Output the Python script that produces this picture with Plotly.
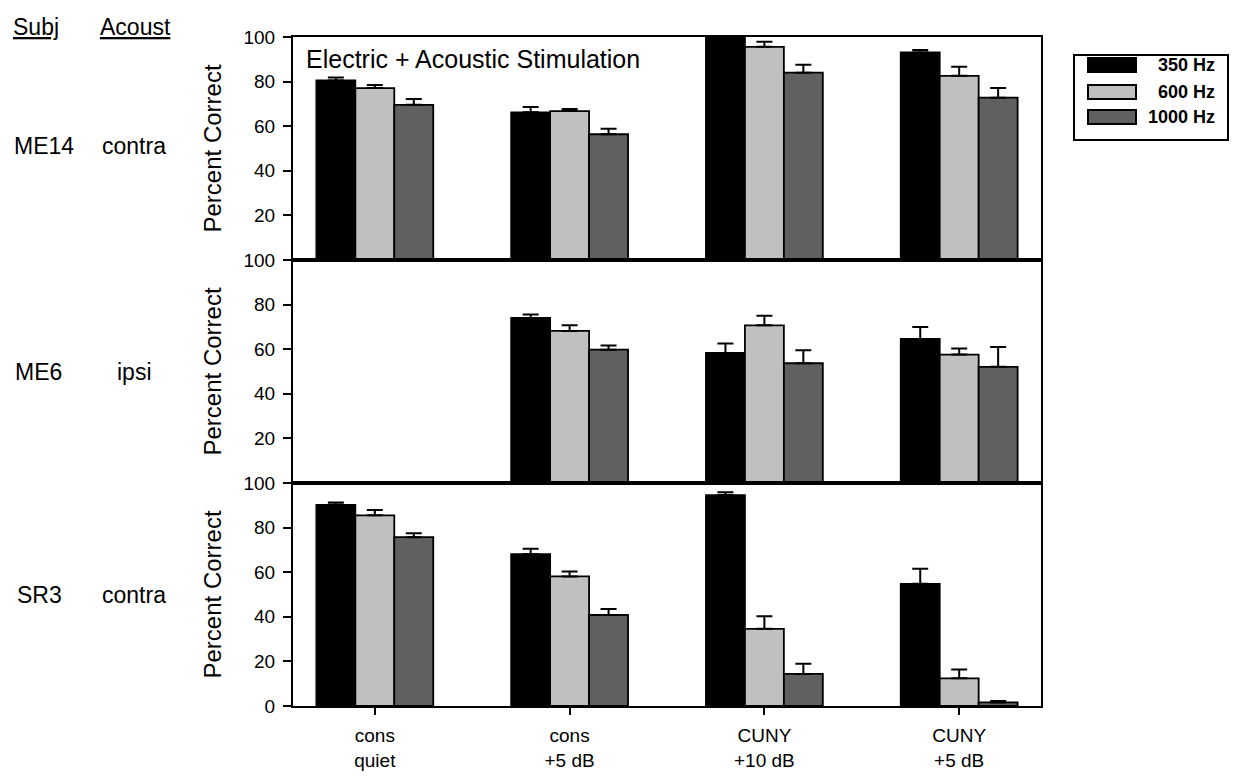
import plotly.graph_objects as go
from plotly.subplots import make_subplots

categories = ["cons<br>quiet", "cons<br>+5 dB", "CUNY<br>+10 dB", "CUNY<br>+5 dB"]
freqs = ["350 Hz", "600 Hz", "1000 Hz"]
colors = ["#000000", "#C0C0C0", "#606060"]

subjects = ["ME14", "ME6", "SR3"]
acoust = ["contra", "ipsi", "contra"]

me14_350 = [80.5, 66.2, 100.0, 93.1]
me14_350_err = [1.3, 2.4, 0.0, 1.1]
me14_600 = [77.1, 66.8, 95.6, 82.6]
me14_600_err = [1.4, 0.9, 2.3, 4.1]
me14_1000 = [69.6, 56.4, 84.0, 72.8]
me14_1000_err = [2.6, 2.5, 3.6, 4.3]

me6_350 = [None, 74.0, 58.3, 64.6]
me6_350_err = [0, 1.6, 4.3, 5.4]
me6_600 = [None, 68.2, 70.7, 57.6]
me6_600_err = [0, 2.5, 4.3, 2.7]
me6_1000 = [None, 59.8, 53.7, 52.1]
me6_1000_err = [0, 1.9, 5.8, 8.9]

sr3_350 = [90.2, 68.1, 94.6, 54.8]
sr3_350_err = [1.0, 2.4, 1.2, 6.8]
sr3_600 = [85.5, 58.1, 34.6, 12.4]
sr3_600_err = [2.4, 2.2, 5.6, 4.0]
sr3_1000 = [75.7, 40.8, 14.4, 1.6]
sr3_1000_err = [1.8, 2.7, 4.5, 0.6]

panels = [
    [(me14_350, me14_350_err), (me14_600, me14_600_err), (me14_1000, me14_1000_err)],
    [(me6_350, me6_350_err), (me6_600, me6_600_err), (me6_1000, me6_1000_err)],
    [(sr3_350, sr3_350_err), (sr3_600, sr3_600_err), (sr3_1000, sr3_1000_err)],
]

FONT = "Liberation Sans, Arial, sans-serif"

fig = make_subplots(rows=3, cols=1, shared_xaxes=True, vertical_spacing=0)

for r, series in enumerate(panels, start=1):
    for i, (vals, errs) in enumerate(series):
        fig.add_trace(
            go.Bar(
                x=categories, y=vals, name=freqs[i],
                marker=dict(color=colors[i], line=dict(color="black", width=1.8)),
                error_y=dict(type="data", array=errs, arrayminus=[0] * len(errs),
                             symmetric=False, color="black", thickness=2, width=8),
                showlegend=False,
            ),
            row=r, col=1,
        )

# the page has an 8px body margin on every side; size the figure to fit the window
OFF = 8
W, H = 1222, 768
L, R, T, B = 285, 189, 29, 70
PW, PH = W - L - R, H - T - B

def px(x):
    return (x - OFF - L) / PW

def py(y):
    return (H - B - (y - OFF)) / PH

fig.update_layout(
    width=W, height=H,
    margin=dict(l=L, r=R, t=T, b=B, autoexpand=False),
    paper_bgcolor="white", plot_bgcolor="white",
    barmode="group", bargap=0.4, bargroupgap=0,
    font=dict(family=FONT, size=16, color="black"),
)

for r in range(1, 4):
    fig.update_yaxes(
        range=[0, 100], automargin=False,
        tickvals=[0, 20, 40, 60, 80, 100] if r == 3 else [20, 40, 60, 80, 100],
        ticks="outside", ticklen=8, tickwidth=2, tickcolor="black",
        ticklabelstandoff=4,
        showline=True, linewidth=2, linecolor="black", mirror=True,
        showgrid=False, zeroline=False,
        tickfont=dict(family=FONT, size=19, color="black"),
        row=r, col=1,
    )
    fig.update_xaxes(
        range=[-0.42, 3.42], automargin=False,
        showline=True, linewidth=2, linecolor="black", mirror=True,
        showgrid=False, zeroline=False,
        row=r, col=1,
    )
    fig.add_annotation(
        text="Percent Correct", textangle=-90, xref="paper", yref="paper",
        x=px(212), y=(3 - r + 0.5) / 3, xanchor="center", yanchor="middle",
        showarrow=False, font=dict(family=FONT, size=24, color="black"),
    )

fig.update_xaxes(showticklabels=False, ticks="", row=1, col=1)
fig.update_xaxes(showticklabels=False, ticks="", row=2, col=1)
fig.update_xaxes(
    ticks="outside", ticklen=7, tickwidth=2, tickcolor="black",
    showticklabels=True, ticklabelstandoff=4,
    tickfont=dict(family=FONT, size=19, color="black"),
    row=3, col=1,
)

# panel title
fig.add_annotation(text="Electric + Acoustic Stimulation", xref="paper", yref="paper",
                   x=px(304), y=py(59), xanchor="left", yanchor="middle",
                   showarrow=False, font=dict(family=FONT, size=25, color="black"))

# left-side labels
fig.add_annotation(text="<u>Subj</u>", xref="paper", yref="paper", x=px(36), y=py(27),
                   xanchor="center", yanchor="middle",
                   showarrow=False, font=dict(family=FONT, size=23, color="black"))
fig.add_annotation(text="<u>Acoust</u>", xref="paper", yref="paper", x=px(135), y=py(27),
                   xanchor="center", yanchor="middle",
                   showarrow=False, font=dict(family=FONT, size=23, color="black"))
row_y = [146, 372, 595]
subj_x = [44, 38, 40]
acou_x = [134, 134, 134]
for k in range(3):
    fig.add_annotation(text=subjects[k], xref="paper", yref="paper", x=px(subj_x[k]), y=py(row_y[k]),
                       xanchor="center", yanchor="middle",
                       showarrow=False, font=dict(family=FONT, size=23, color="black"))
    fig.add_annotation(text=acoust[k], xref="paper", yref="paper", x=px(acou_x[k]), y=py(row_y[k]),
                       xanchor="center", yanchor="middle",
                       showarrow=False, font=dict(family=FONT, size=23, color="black"))

# legend box
fig.add_shape(type="rect", xref="paper", yref="paper",
              x0=px(1074), x1=px(1228), y0=py(140), y1=py(55),
              line=dict(color="black", width=2), fillcolor="white")
sw_y = [65, 92, 117]
for i in range(3):
    fig.add_shape(type="rect", xref="paper", yref="paper",
                  x0=px(1088), x1=px(1136), y0=py(sw_y[i] + 7), y1=py(sw_y[i] - 7),
                  line=dict(color="black", width=2), fillcolor=colors[i])
    fig.add_annotation(text="<b>" + freqs[i] + "</b>", xref="paper", yref="paper",
                       x=px(1217), y=py(sw_y[i]),
                       xanchor="right", yanchor="middle", showarrow=False,
                       font=dict(family=FONT, size=18, color="black"))

fig.write_html("out.html")
